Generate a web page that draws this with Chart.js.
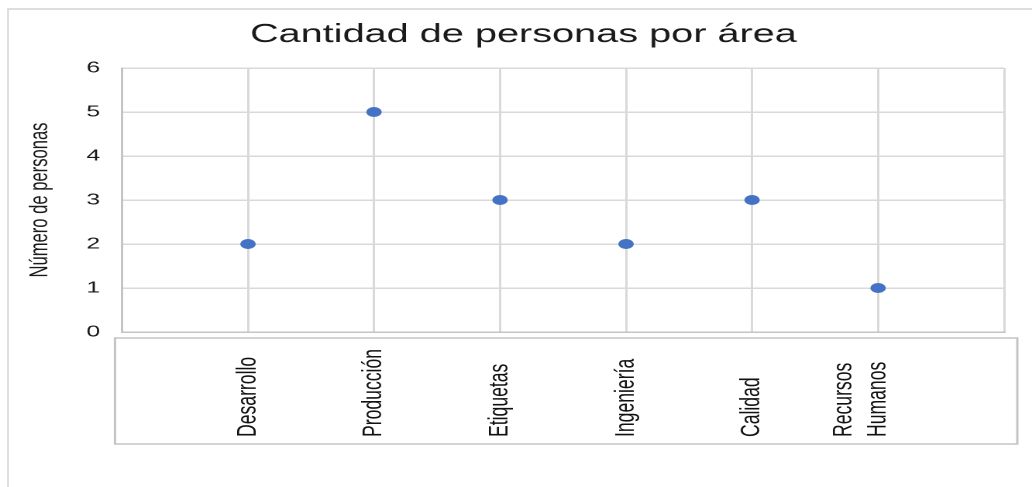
<!DOCTYPE html>
<html><head><meta charset="utf-8">
<script src="https://cdn.jsdelivr.net/npm/chart.js@4/dist/chart.umd.min.js"></script>
<style>
html,body{margin:0;padding:0;background:#fff;overflow:hidden;width:1032px;height:487px;}
#frame{position:absolute;left:7px;top:8px;width:1100px;height:600px;border:2px solid #dedede;box-sizing:border-box;}
#wrap{position:absolute;left:0;top:0;width:666px;height:487px;transform:scaleX(1.54955);transform-origin:0 0;}
</style></head><body>
<div id="frame"></div>
<div id="wrap"><canvas id="c"></canvas></div>
<script>
// Data
const areas = ['Desarrollo', 'Producción', 'Etiquetas', 'Ingeniería', 'Calidad', ['Recursos', 'Humanos']];
const personas = [2, 5, 3, 2, 3, 1];
const yTicks = [0, 1, 2, 3, 4, 5, 6];
const chartTitle = 'Cantidad de personas por área';
const yTitle = 'Número de personas';

// category axis padded with an empty slot at each end
const labels = [''].concat(areas, ['']);
const values = [null].concat(personas, [null]);

const FONT = "'Liberation Sans', Arial, sans-serif";

const xLabelPlugin = {
  id: 'xLabelPlugin',
  beforeDraw(chart) {
    const xs = chart.scales.x;
    const items = xs.getLabelItems();
    items.forEach((it, i) => {
      const lines = Array.isArray(it.label) ? it.label.length : 1;
      const lh = it.font.lineHeight;
      const px = xs.getPixelForTick(i);
      it.options.textAlign = 'left';
      it.options.translation = [px - lh / 2 - (lines - 1) * lh, xs.top + 105];
    });
  },
  afterDraw(chart) {
    const xs = chart.scales.x;
    const ca = chart.chartArea;
    const ctx = chart.ctx;
    ctx.save();
    ctx.strokeStyle = '#c4c4c4';
    ctx.lineWidth = 1.5;
    ctx.strokeRect(ca.left - 4.5, xs.top + 6, (ca.right + 8.5) - (ca.left - 4.5), 106);
    ctx.restore();
  }
};

new Chart(document.getElementById('c'), {
  type: 'line',
  data: {
    labels: labels,
    datasets: [{
      data: values,
      showLine: false,
      pointRadius: 5,
      pointHoverRadius: 5,
      pointBorderWidth: 0,
      backgroundColor: '#4472C4',
      borderColor: '#4472C4'
    }]
  },
  options: {
    responsive: true,
    maintainAspectRatio: false,
    devicePixelRatio: 2,
    animation: false,
    layout: { padding: { left: 27.5, right: 18, top: 8, bottom: 0 } },
    plugins: {
      legend: { display: false },
      tooltip: { enabled: false },
      title: {
        display: true,
        text: chartTitle,
        color: '#1a1a1a',
        font: { family: FONT, size: 25.6, weight: 'normal', lineHeight: 1.2 },
        padding: { top: 11.5, bottom: 17.8 }
      }
    },
    scales: {
      x: {
        type: 'category',
        offset: false,
        grid: { color: '#d9d9d9', lineWidth: 1.5, drawTicks: false, offset: false },
        border: { display: true, color: '#c4c4c4', width: 1.5 },
        ticks: {
          autoSkip: false,
          minRotation: 90,
          maxRotation: 90,
          padding: 0,
          color: '#111',
          font: { family: FONT, size: 17.6, lineHeight: 1.25 }
        },
        afterFit(s) { s.height = 155; s.paddingLeft = 0; s.paddingRight = 0; }
      },
      y: {
        min: 0,
        max: 6,
        afterBuildTicks(s) { s.ticks = yTicks.map(v => ({ value: v })); },
        grid: { color: '#d9d9d9', lineWidth: 1.5, drawTicks: false },
        border: { display: true, color: '#c4c4c4', width: 1.5 },
        ticks: {
          padding: 14,
          color: '#1a1a1a',
          font: { family: FONT, size: 16 }
        },
        title: {
          display: true,
          text: yTitle,
          color: '#1a1a1a',
          font: { family: FONT, size: 16.6, lineHeight: 1.2 },
          padding: { top: -11.7, bottom: 0 }
        },
        afterFit(s) { s.width = 51.2; }
      }
    }
  },
  plugins: [xLabelPlugin]
});
</script>
</body></html>
